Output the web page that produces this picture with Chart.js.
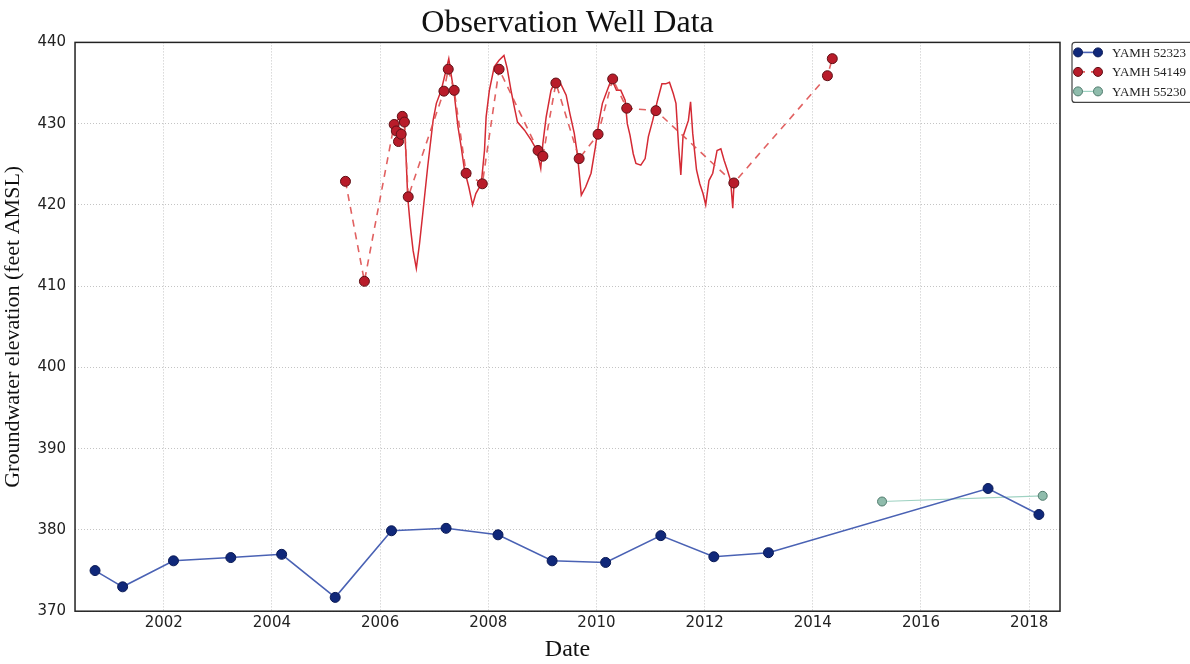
<!DOCTYPE html>
<html>
<head>
<meta charset="utf-8">
<title>Observation Well Data</title>
<script src="https://cdn.jsdelivr.net/npm/chart.js@4.4.1/dist/chart.umd.min.js"></script>
<style>
  html, body { margin: 0; padding: 0; background: #fff; overflow: hidden; }
  #wrap { width: 1190px; height: 664px; position: relative; }
</style>
</head>
<body>
<div id="wrap"><canvas id="chart-wells"></canvas></div>
<script>
// ============================================================
// Data (dates as decimal years, feet AMSL)
// ============================================================
const xTickYears = [2002, 2004, 2006, 2008, 2010, 2012, 2014, 2016, 2018];

// YAMH 52323 – manual readings
const well52323Dates  = [2000.73, 2001.24, 2002.18, 2003.24, 2004.18, 2005.17, 2006.21, 2007.22,
                         2008.18, 2009.18, 2010.17, 2011.19, 2012.17, 2013.18, 2017.24, 2018.18];
const well52323Levels = [375.0, 373.0, 376.2, 376.6, 377.0, 371.7, 379.9, 380.2,
                         379.4, 376.2, 376.0, 379.3, 376.7, 377.2, 385.1, 381.9];

// YAMH 54149 – manual readings
const well54149Dates  = [2005.36, 2005.71, 2006.26, 2006.30, 2006.34, 2006.39, 2006.41, 2006.45,
                         2006.52, 2007.18, 2007.26, 2007.37, 2007.59, 2007.89, 2008.20, 2008.92,
                         2009.01, 2009.25, 2009.68, 2010.03, 2010.30, 2010.56, 2011.10, 2012.54,
                         2014.27, 2014.36];
const well54149Levels = [422.9, 410.6, 429.9, 429.1, 427.8, 428.7, 430.9, 430.2,
                         421.0, 434.0, 436.7, 434.1, 423.9, 422.6, 436.7, 426.7,
                         426.0, 435.0, 425.7, 428.7, 435.5, 431.9, 431.6, 422.7,
                         435.9, 438.0];

// YAMH 54149 – continuous logger record
const logger54149Dates  = [2006.24, 2006.39, 2006.45, 2006.48, 2006.51, 2006.56, 2006.61, 2006.67,
                           2006.73, 2006.79, 2006.88, 2006.98, 2007.04, 2007.13, 2007.22, 2007.27,
                           2007.31, 2007.37, 2007.44, 2007.50, 2007.56, 2007.64, 2007.71, 2007.77,
                           2007.87, 2007.93, 2007.96, 2008.02, 2008.11, 2008.20, 2008.29, 2008.35,
                           2008.42, 2008.48, 2008.54, 2008.67, 2008.79, 2008.90, 2008.97, 2009.01,
                           2009.07, 2009.16, 2009.23, 2009.34, 2009.44, 2009.51, 2009.59, 2009.65,
                           2009.72, 2009.80, 2009.90, 2009.98, 2010.04, 2010.11, 2010.21, 2010.28,
                           2010.37, 2010.45, 2010.53, 2010.57, 2010.62, 2010.68, 2010.73, 2010.82,
                           2010.90, 2010.96, 2011.04, 2011.13, 2011.21, 2011.28, 2011.35, 2011.42,
                           2011.47, 2011.52, 2011.56, 2011.60, 2011.65, 2011.70, 2011.74, 2011.78,
                           2011.85, 2011.91, 2011.97, 2012.02, 2012.08, 2012.15, 2012.23, 2012.30,
                           2012.36, 2012.42, 2012.48, 2012.52, 2012.54];
const logger54149Levels = [430.0, 430.8, 429.8, 425.9, 421.0, 417.3, 414.4, 412.2,
                           415.3, 419.0, 424.7, 430.4, 432.5, 434.1, 436.6, 438.0,
                           436.2, 433.7, 429.6, 427.1, 424.3, 422.2, 420.0, 421.4,
                           422.6, 426.7, 430.8, 434.1, 437.0, 437.8, 438.4, 436.8,
                           434.1, 432.1, 430.2, 429.2, 428.0, 426.7, 424.5, 427.6,
                           430.8, 434.1, 435.1, 434.9, 433.5, 431.2, 428.8, 426.1,
                           421.2, 422.2, 423.9, 427.1, 430.0, 432.5, 434.3, 435.5,
                           434.1, 434.1, 432.9, 430.0, 428.6, 426.3, 425.1, 424.9,
                           425.7, 428.4, 430.4, 432.9, 434.9, 434.9, 435.1, 433.7,
                           432.5, 427.1, 423.7, 428.4, 429.4, 430.4, 432.7, 428.8,
                           424.3, 422.6, 421.4, 420.0, 423.0, 423.9, 426.7, 426.9,
                           425.5, 424.3, 423.0, 419.6, 422.2];

// YAMH 55230 – manual readings
const well55230Dates  = [2015.28, 2018.25];
const well55230Levels = [383.5, 384.2];

const toPoints = (xs, ys) => xs.map((x, i) => ({ x, y: ys[i] }));

// ============================================================
// Plot frame + boxed legend (matplotlib look)
// ============================================================
const framePlugin = {
  id: 'frame',
  afterDraw(chart) {
    const { ctx, chartArea: a } = chart;
    ctx.save();
    ctx.strokeStyle = '#222';
    ctx.lineWidth = 1.5;
    ctx.strokeRect(a.left, a.top, a.right - a.left, a.bottom - a.top);
    ctx.restore();
  }
};

const boxLegendPlugin = {
  id: 'boxLegend',
  afterDraw(chart) {
    const { ctx, chartArea: a } = chart;
    const items = chart.data.datasets.filter(d => d.showInLegend);
    const left = a.right + 12, top = a.top;
    ctx.save();
    ctx.strokeStyle = '#444';
    ctx.lineWidth = 1.2;
    ctx.beginPath();
    ctx.roundRect(left, top, 140, 60, 3);
    ctx.stroke();
    items.forEach((d, i) => {
      const y = top + 10 + i * 19.5;
      const x0 = left + 6, x1 = left + 26;
      ctx.strokeStyle = d.borderColor;
      ctx.lineWidth = d.borderWidth;
      ctx.setLineDash(d.borderDash || []);
      ctx.beginPath();
      ctx.moveTo(x0, y);
      ctx.lineTo(x1, y);
      ctx.stroke();
      ctx.setLineDash([]);
      [x0, x1].forEach(px => {
        ctx.beginPath();
        ctx.arc(px, y, 4.5, 0, Math.PI * 2);
        ctx.fillStyle = d.pointBackgroundColor;
        ctx.fill();
        ctx.strokeStyle = d.pointBorderColor;
        ctx.lineWidth = 1;
        ctx.stroke();
      });
      ctx.fillStyle = '#222';
      ctx.font = '13px "Liberation Serif", serif';
      ctx.textBaseline = 'middle';
      ctx.fillText(d.label, left + 40, y + 1);
    });
    ctx.restore();
  }
};

// ============================================================
// Chart
// ============================================================
new Chart(document.getElementById('chart-wells'), {
  type: 'line',
  data: {
    datasets: [
      {
        label: 'YAMH 52323',
        showInLegend: true,
        data: toPoints(well52323Dates, well52323Levels),
        borderColor: '#4a62b4',
        borderWidth: 1.6,
        pointRadius: 5,
        pointBackgroundColor: '#10287a',
        pointBorderColor: '#0a1a55',
        pointBorderWidth: 1,
        tension: 0,
        order: 1
      },
      {
        label: 'YAMH 54149',
        showInLegend: true,
        data: toPoints(well54149Dates, well54149Levels),
        borderColor: 'rgba(222,80,80,0.9)',
        borderWidth: 1.6,
        borderDash: [7, 6],
        pointRadius: 5,
        pointBackgroundColor: '#b81c2a',
        pointBorderColor: '#5e1016',
        pointBorderWidth: 1,
        tension: 0,
        order: 2
      },
      {
        label: 'YAMH 55230',
        showInLegend: true,
        data: toPoints(well55230Dates, well55230Levels),
        borderColor: '#9fd2c2',
        borderWidth: 1.2,
        pointRadius: 4.5,
        pointBackgroundColor: '#8fbcac',
        pointBorderColor: '#4f7a6c',
        pointBorderWidth: 1,
        tension: 0,
        order: 3
      },
      {
        label: 'YAMH 54149 logger',
        showInLegend: false,
        data: toPoints(logger54149Dates, logger54149Levels),
        borderColor: '#d42a34',
        borderWidth: 1.5,
        pointRadius: 0,
        tension: 0,
        order: 4
      }
    ]
  },
  options: {
    responsive: true,
    maintainAspectRatio: false,
    animation: false,
    layout: { padding: { top: 0, right: 130, bottom: 0, left: 0 } },
    scales: {
      x: {
        type: 'linear',
        min: 2000.36,
        max: 2018.57,
        afterBuildTicks: scale => { scale.ticks = xTickYears.map(v => ({ value: v })); },
        ticks: {
          color: '#222',
          font: { family: 'DejaVu Sans', size: 15 },
          padding: 3,
          maxRotation: 0,
          callback: v => String(v)
        },
        grid: { color: '#c4c4c4', lineWidth: 1, drawTicks: false },
        border: { display: false, dash: [1, 2] },
        title: {
          display: true,
          text: 'Date',
          color: '#111',
          font: { family: 'Liberation Serif', size: 24 },
          padding: { top: 0, bottom: 0 }
        }
      },
      y: {
        min: 370,
        max: 440,
        ticks: {
          stepSize: 10,
          color: '#222',
          font: { family: 'DejaVu Sans', size: 15 },
          padding: 9
        },
        grid: { color: '#c4c4c4', lineWidth: 1, drawTicks: false },
        border: { display: false, dash: [1, 2] },
        title: {
          display: true,
          text: 'Groundwater elevation (feet AMSL)',
          color: '#111',
          font: { family: 'Liberation Serif', size: 22 },
          padding: { top: 0, bottom: 2 }
        }
      }
    },
    plugins: {
      legend: { display: false },
      tooltip: { enabled: false },
      title: {
        display: true,
        fullSize: false,
        text: 'Observation Well Data',
        color: '#111',
        font: { family: 'Liberation Serif', size: 32, weight: 'normal' },
        padding: { top: 4, bottom: 0 }
      }
    }
  },
  plugins: [framePlugin, boxLegendPlugin]
});
</script>
</body>
</html>
